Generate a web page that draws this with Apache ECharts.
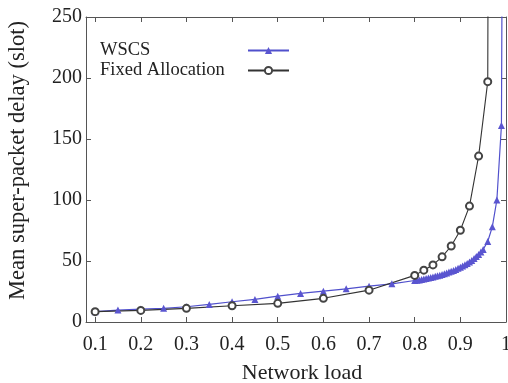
<!DOCTYPE html>
<html>
<head>
<meta charset="utf-8">
<script src="https://cdn.jsdelivr.net/npm/echarts@6/dist/echarts.min.js"></script>
<style>
  html, body { margin: 0; padding: 0; background: #fff; }
</style>
</head>
<body>
<div id="chart" style="width: 508px; height: 383px"></div>
<script>
// tick labels for x axis
const xTicks = [0.1, 0.2, 0.3, 0.4, 0.5, 0.6, 0.7, 0.8, 0.9, 1]

// WSCS: network load / delay
const wscsLoad = [
  0.1, 0.15, 0.2, 0.25, 0.3, 0.35, 0.4, 0.45, 0.5, 0.55, 0.6, 0.65, 0.7, 0.75,
  0.8, 0.805, 0.81, 0.815, 0.82, 0.825, 0.83, 0.835, 0.84, 0.845, 0.85, 0.855,
  0.86, 0.865, 0.87, 0.875, 0.88, 0.885, 0.89, 0.895, 0.9, 0.905, 0.91, 0.915,
  0.92, 0.925, 0.93, 0.935, 0.94, 0.945, 0.95, 0.96, 0.97, 0.98, 0.99, 0.995,
]
const wscsDelay = [
  8.5, 9.8, 10.6, 11.2, 12.5, 14.4, 16.6, 18.5, 21.2, 23.4, 25.3, 27.2, 29.4, 31.3,
  34.0, 34.2, 34.5, 34.8, 35.2, 35.6, 36.0, 36.4, 36.9, 37.4, 37.9, 38.4,
  39.0, 39.6, 40.2, 40.9, 41.6, 42.3, 43.1, 44.0, 44.9, 45.9, 46.9, 48.0,
  49.2, 50.5, 52.0, 53.6, 55.4, 57.3, 59.5, 66, 78, 100, 161, 600,
]

// Fixed Allocation
const fixedLoad = [0.1, 0.2, 0.3, 0.4, 0.5, 0.6, 0.7, 0.8, 0.82, 0.84, 0.86, 0.88, 0.9, 0.92, 0.94, 0.96, 0.97]
const fixedDelay = [8.5, 9.5, 11.2, 13.3, 15.3, 19.4, 26.1, 38.2, 42.5, 46.8, 53.4, 62.3, 75.2, 95, 136, 197, 1500]

const pairs = (xs, ys) => xs.map((x, i) => [x, ys[i]])

const font = 'Liberation Serif'
const axisColor = '#555'
const textColor = '#222'

const myChart = echarts.init(document.getElementById('chart'))

const lineOpts = { show: true, onZero: false, lineStyle: { color: axisColor } }
const tickOpts = {
  show: true,
  inside: true,
  length: 5,
  lineStyle: { color: axisColor },
}

const option = {
  animation: false,
  backgroundColor: '#fff',
  grid: { left: 86, right: 2, top: 17, bottom: 61, outerBoundsMode: 'none' },
  legend: {
    orient: 'vertical',
    left: 95,
    top: 36,
    align: 'right',
    itemGap: 1,
    itemWidth: 41,
    itemHeight: 9,
    formatter: (name) => '{t|' + name + '}',
    textStyle: {
      fontFamily: font,
      fontSize: 18.5,
      color: textColor,
      rich: { t: { width: 143, fontFamily: font, fontSize: 18.5, color: textColor, align: 'left' } },
    },
    data: ['WSCS', 'Fixed Allocation'],
  },
  xAxis: [
    {
      type: 'value',
      min: 0.08,
      max: 1,
      name: 'Network load',
      nameLocation: 'middle',
      nameGap: 40,
      nameTextStyle: { fontFamily: font, fontSize: 22, color: textColor, padding: [0, 0, 0, 12] },
      axisLine: lineOpts,
      axisTick: { ...tickOpts, customValues: xTicks },
      axisLabel: {
        customValues: xTicks,
        fontFamily: font,
        fontSize: 20,
        color: textColor,
        margin: 13,
        formatter: (v) => (v === 1 ? '1' : v.toFixed(1)),
      },
      splitLine: { show: false },
    },
    {
      type: 'value',
      position: 'top',
      min: 0.08,
      max: 1,
      axisLine: lineOpts,
      axisTick: { ...tickOpts, customValues: xTicks },
      axisLabel: { show: false },
      splitLine: { show: false },
    },
  ],
  yAxis: [
    {
      type: 'value',
      min: 0,
      max: 250,
      interval: 50,
      name: 'Mean super-packet delay (slot)',
      nameLocation: 'middle',
      nameGap: 56,
      nameTextStyle: { fontFamily: font, fontSize: 22.5, color: textColor, padding: [0, 0, 0, 18] },
      axisLine: lineOpts,
      axisTick: tickOpts,
      axisLabel: { fontFamily: font, fontSize: 20, color: textColor, margin: 4 },
      splitLine: { show: false },
    },
    {
      type: 'value',
      position: 'right',
      min: 0,
      max: 250,
      interval: 50,
      axisLine: lineOpts,
      axisTick: tickOpts,
      axisLabel: { show: false },
      splitLine: { show: false },
    },
  ],
  series: [
    {
      name: 'WSCS',
      type: 'line',
      data: pairs(wscsLoad, wscsDelay),
      symbol: 'triangle',
      symbolSize: 7,
      clip: true,
      color: '#5050cc',
      lineStyle: { width: 1.2, color: '#5050cc' },
      itemStyle: { color: '#5a55d0' },
    },
    {
      name: 'Fixed Allocation',
      type: 'line',
      data: pairs(fixedLoad, fixedDelay),
      symbol: 'emptyCircle',
      symbolSize: 7,
      clip: true,
      color: '#333',
      lineStyle: { width: 1.1, color: '#333' },
      itemStyle: { color: '#444', borderWidth: 1 },
    },
  ],
}

myChart.setOption(option)
</script>
</body>
</html>
